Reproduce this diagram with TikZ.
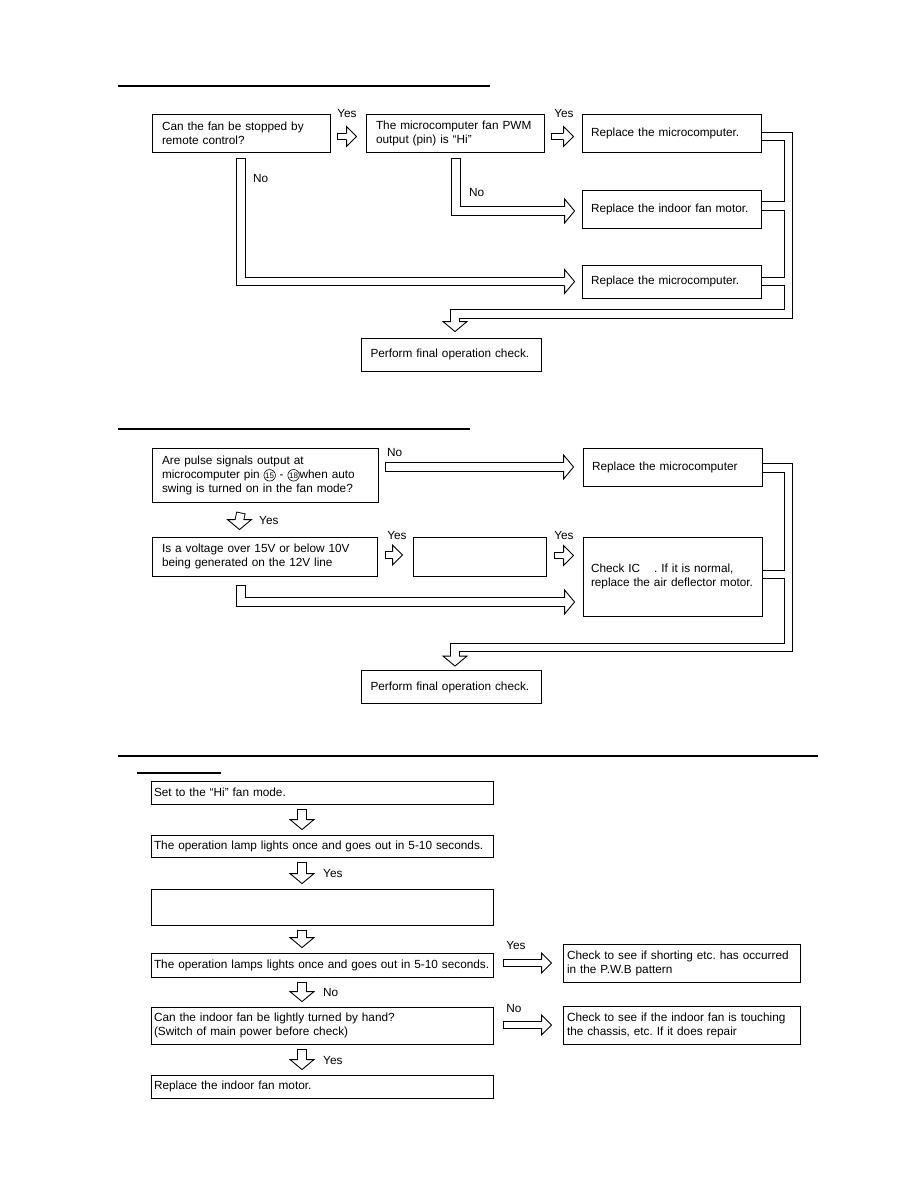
\documentclass[tikz,border=0pt]{standalone}
\usepackage{fontspec}
\setmainfont{Liberation Sans}
\frenchspacing
\usetikzlibrary{calc,positioning}
\pgfdeclarelayer{background}
\pgfsetlayers{background,main}
\tikzset{
  box/.style={draw,fill=white,line width=0.9pt,inner xsep=10pt,inner ysep=0pt,align=left,font=\fontsize{11.8}{14}\selectfont},
  lbl/.style={inner sep=0pt,font=\fontsize{11.8}{14}\selectfont},
  pipe/.style={draw=white,line width=7.6pt,line cap=rect,preaction={draw=black,line width=9.4pt,line cap=rect}},
  thinpipe/.style={draw=white,line width=5.8pt,line cap=rect,preaction={draw=black,line width=7.6pt,line cap=rect}},
  bighead/.pic={
    \fill[white] (-10,-12) -- (0,0) -- (-10,12) -- cycle;
    \draw[line width=0.9pt] (-10,-4.2) -- (-10,-12) -- (0,0) -- (-10,12) -- (-10,4.2);
  },
  smallhead/.pic={
    \fill[white] (-10,-10) -- (0,0) -- (-10,10) -- cycle;
    \draw[line width=0.9pt] (-10,-3.3) -- (-10,-10) -- (0,0) -- (-10,10) -- (-10,3.3);
  },
}
\newcommand\pinno[1]{\tikz[baseline=(pc.base)]\node[circle,draw,line width=0.6pt,inner sep=0pt,minimum size=11.5pt,font=\fontsize{8}{8}\selectfont] (pc) {#1};}

\begin{document}
\begin{tikzpicture}[x=1pt,y=-1pt]
  \useasboundingbox (0,0) rectangle (918,1188);
  % rules
  \draw[line width=1.2pt] (118,86) -- (490,86);
  \draw[line width=1.2pt] (118,429) -- (470,429);
  \draw[line width=1.2pt] (118,756) -- (818,756);
  \draw[line width=1.2pt] (137,773) -- (221,773);

  % fan stop check
  \node[box,text width=158pt,minimum height=38pt] (qa) at (241,133) {Can the fan be stopped by\\remote control?};
  \node[box,text width=158pt,minimum height=38pt] (qb) at (455,133) {The microcomputer fan PWM\\output (pin) is “Hi”};
  \node[box,inner xsep=9pt,text width=161pt,minimum height=38pt] (rc) at (671.5,133) {Replace the microcomputer.};
  \node[box,inner xsep=9pt,text width=161pt,minimum height=38pt] (rd) at (671.5,209) {Replace the indoor fan motor.};
  \node[box,inner xsep=9pt,text width=161pt,minimum height=33pt] (re) at (671.5,281.5) {Replace the microcomputer.};
  \node[box,inner xsep=9pt,text width=162pt,minimum height=33pt] (fa) at (451.5,354.5) {Perform final operation check.};
  \node[lbl] (ya1) at (347,113) {Yes};
  \node[lbl] (ya2) at (564,113) {Yes};
  \node[lbl,anchor=west] (na1) at (253,178) {No};
  \node[lbl,anchor=west] (na2) at (469,192) {No};
  \coordinate (ma) at (788.5,314);

  % air deflector check
  \node[box,text width=206pt,minimum height=54pt] (qp) at (265,475) {Are pulse signals output at\\microcomputer pin \pinno{15} - \pinno{18}when auto\\swing is turned on in the fan mode?};
  \node[box,inner xsep=9pt,text width=161pt,minimum height=38pt] (rm) at (672.5,467) {Replace the microcomputer};
  \node[box,text width=205pt,minimum height=39pt] (qv) at (264.5,556.5) {Is a voltage over 15V or below 10V\\being generated on the 12V line};
  \node[box,text width=113pt,minimum height=39pt] (ev) at (479.5,556.5) {};
  \node[box,inner xsep=8pt,text width=163pt,minimum height=79pt] (ck) at (672.5,576.5) {Check IC\hspace{14pt}. If it is normal,\\replace the air deflector motor.};
  \node[box,inner xsep=9pt,text width=162pt,minimum height=33pt] (fb) at (451.5,687) {Perform final operation check.};
  \node[lbl,anchor=west] (nb1) at (387,452) {No};
  \node[lbl,anchor=west] (yb1) at (259,520) {Yes};
  \node[lbl] (yb2) at (397,535) {Yes};
  \node[lbl] (yb3) at (564,535) {Yes};
  \coordinate (mb) at (788.5,647.5);

  % fan motor check
  \node[box,inner xsep=3pt,text width=336pt,minimum height=23pt] (s1) at (322,792.5) {Set to the “Hi” fan mode.};
  \node[box,inner xsep=3pt,text width=336pt,minimum height=22pt] (s2) at (322,846) {The operation lamp lights once and goes out in 5-10 seconds.};
  \node[box,inner xsep=3pt,text width=336pt,minimum height=36pt] (s3) at (322,907) {};
  \node[box,inner xsep=3pt,text width=336pt,minimum height=24pt] (s4) at (322,965) {The operation lamps lights once and goes out in 5-10 seconds.};
  \node[box,inner xsep=3pt,text width=336pt,minimum height=37pt] (s5) at (322,1025.5) {Can the indoor fan be lightly turned by hand?\\(Switch of main power before check)};
  \node[box,inner xsep=3pt,text width=336pt,minimum height=23pt] (s6) at (322,1086.5) {Replace the indoor fan motor.};
  \node[box,inner xsep=4pt,text width=229pt,minimum height=38pt] (c1) at (681.5,963) {Check to see if shorting etc. has occurred\\in the P.W.B pattern};
  \node[box,inner xsep=4pt,text width=229pt,minimum height=38pt] (c2) at (681.5,1025) {Check to see if the indoor fan is touching\\the chassis, etc. If it does repair};
  \node[lbl,anchor=west] (yc1) at (323,873) {Yes};
  \node[lbl,anchor=west] (nc1) at (323,992) {No};
  \node[lbl,anchor=west] (yc2) at (323,1060) {Yes};
  \node[lbl] (yc3) at (516,945) {Yes};
  \node[lbl] (nc2) at (514,1008) {No};

  \begin{pgfonlayer}{background}
    % top
    \draw[thinpipe] ($(qa.east)+(10.8,3.5)$) -- ($(qb.west)+(-19,3.5)$);
    \pic at ($(qb.west)+(-9,3.5)$) {smallhead};
    \draw[thinpipe] ($(qb.east)+(10.8,3.5)$) -- ($(rc.west)+(-18,3.5)$);
    \pic at ($(rc.west)+(-8,3.5)$) {smallhead};
    \draw[pipe] ($(qa.south)+(0,10.7)$) |- ($(re.west)+(-17,0)$);
    \pic at ($(re.west)+(-7,0)$) {bighead};
    \draw[pipe] ($(qb.south)+(1,10.7)$) |- ($(rd.west)+(-17,2)$);
    \pic at ($(rd.west)+(-7,2)$) {bighead};
    \draw[pipe] ($(rc.east)+(0,3.5)$) -| (ma) -| ($(fa.north)+(3.5,-16)$)
      ($(rd.east)+(0,-3)$) -- ($(rd.east -| ma)+(0,-3)$)
      (re.east) -- (re.east -| ma);
    \pic[rotate=-90] at ($(fa.north)+(3.5,-6)$) {bighead};
    % middle
    \draw[pipe] ($(qp.east |- rm.west)+(11.7,0)$) -- ($(rm.west)+(-19,0)$);
    \pic at ($(rm.west)+(-9,0)$) {bighead};
    \draw[pipe] ($(qp.south)+(-25,14.7)$) -- ($(qv.north)+(-25,-17)$);
    \pic[rotate=-90] at ($(qv.north)+(-25,-7)$) {bighead};
    \draw[thinpipe] ($(qv.east)+(11.8,-1.5)$) -- ($(ev.west)+(-20,-1.5)$);
    \pic at ($(ev.west)+(-10,-1.5)$) {smallhead};
    \draw[thinpipe] ($(ev.east)+(11.8,-1)$) -- ($(ck.west |- ev.east)+(-19,-1)$);
    \pic at ($(ck.west |- ev.east)+(-9,-1)$) {smallhead};
    \draw[pipe] ($(qv.south)+(-23.5,13.7)$) |- ($(ck.west)+(-18,25.5)$);
    \pic at ($(ck.west)+(-8,25.5)$) {bighead};
    \draw[pipe] ($(rm.east)+(0,1)$) -| (mb) -| ($(fb.north)+(3.5,-14)$)
      ($(ck.east)+(0,-2)$) -- ($(ck.east -| mb)+(0,-2)$);
    \pic[rotate=-90] at ($(fb.north)+(3.5,-4)$) {bighead};
    % bottom
    \foreach \u/\l in {s1/s2,s2/s3,s3/s4,s4/s5,s5/s6}{
      \draw[pipe] ($(\u.south)+(-20,9.2)$) -- ($(\l.north)+(-20,-15)$);
      \pic[rotate=-90] at ($(\l.north)+(-20,-5)$) {bighead};
    }
    \draw[thinpipe] ($(s4.east |- c1.west)+(13.8,0)$) -- ($(c1.west)+(-21,0)$);
    \pic at ($(c1.west)+(-11,0)$) {smallhead};
    \draw[thinpipe] ($(s5.east |- c2.west)+(13.8,0)$) -- ($(c2.west)+(-21,0)$);
    \pic at ($(c2.west)+(-11,0)$) {smallhead};
  \end{pgfonlayer}
\end{tikzpicture}
\end{document}
